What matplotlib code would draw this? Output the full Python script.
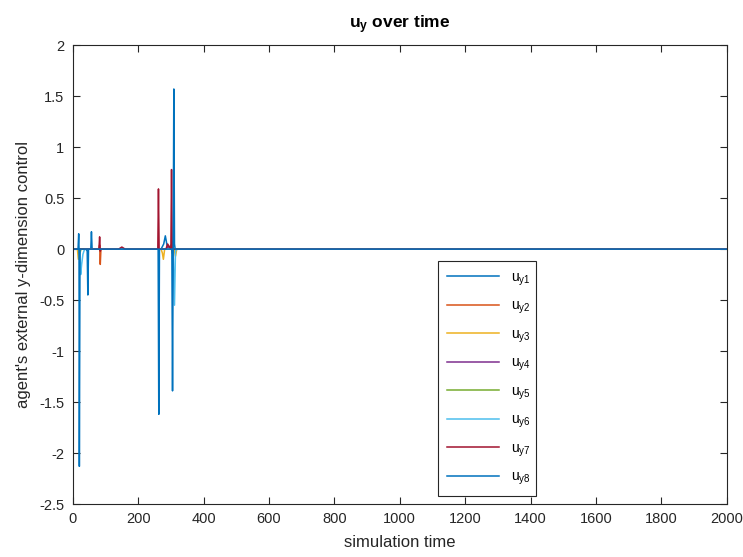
import matplotlib
matplotlib.use("Agg")
import matplotlib.pyplot as plt
import numpy as np

plt.rcParams['font.family'] = ['Liberation Sans', 'DejaVu Sans']
plt.rcParams['mathtext.fontset'] = 'custom'
plt.rcParams['mathtext.rm'] = 'Liberation Sans'
plt.rcParams['mathtext.it'] = 'Liberation Sans'
plt.rcParams['mathtext.bf'] = 'Liberation Sans:bold'

t1 = [0, 40, 44, 46, 48, 55, 57, 59, 61, 270, 278, 283, 288, 292, 2000]
u1 = [0, 0, -0.02, -0.45, 0.0, 0.0, 0.17, 0.0, 0.0, 0.0, 0.05, 0.13, 0.04, 0.0, 0]

t2 = [0, 80, 82, 84, 86, 290, 300, 304, 310, 2000]
u2 = [0, 0, 0.04, -0.15, 0.0, 0.0, 0.03, -0.04, 0.0, 0]

t3 = [0, 14, 17, 20, 24, 270, 274, 277, 281, 310, 314, 318, 2000]
u3 = [0, 0, -0.1, -0.03, 0.0, 0.0, -0.04, -0.1, 0.0, 0.0, -0.07, 0.0, 0]

t4 = [0, 285, 292, 298, 2000]
u4 = [0, 0, 0.03, 0.0, 0]

t5 = [0, 18, 21, 25, 296, 300, 306, 2000]
u5 = [0, 0, -0.05, 0.0, 0.0, 0.04, 0.0, 0]

t6 = [0, 20, 22, 24, 27, 31, 36, 300, 306, 311, 314, 318, 2000]
u6 = [0, 0, -0.05, -0.25, -0.15, -0.05, 0.0, 0.0, 0.08, -0.55, -0.02, 0.0, 0]

t7 = [0, 80, 82, 84, 86, 140, 150, 160, 260, 262, 264, 266, 285, 290, 300, 302, 304, 306, 2000]
u7 = [0, 0, 0.12, -0.02, 0.0, 0.0, 0.02, 0.0, 0.0, 0.59, 0.0, 0.0, 0.0, 0.05, 0.0, 0.78, 0.02, 0.0, 0]

t8 = [0, 16, 18, 19, 20, 22, 261, 263, 265, 303, 305, 307, 309, 311, 313, 2000]
u8 = [0, 0, 0.15, 0.0, -2.13, 0.0, 0.0, -1.62, 0.0, 0.0, -1.39, 0.0, 1.57, 0.05, 0.0, 0]

times = [t1, t2, t3, t4, t5, t6, t7, t8]
signals = [u1, u2, u3, u4, u5, u6, u7, u8]
labels = [r'$\mathrm{u_{y%d}}$' % (i + 1) for i in range(8)]
colors = ['#0072BD', '#D95319', '#EDB120', '#7E2F8E', '#77AC30', '#4DBEEE', '#A2142F', '#0072BD']

xticks = np.arange(0, 2001, 200)
yticks = np.arange(-2.5, 2.01, 0.5)
ytick_labels = ['-2.5', '-2', '-1.5', '-1', '-0.5', '0', '0.5', '1', '1.5', '2']

fig = plt.figure(figsize=(7.43, 5.57), dpi=100)
ax = fig.add_axes([0.098, 0.095, 0.880, 0.824])

for t, u, c, lab in zip(times, signals, colors, labels):
    ax.plot(t, u, color=c, lw=1.1, label=lab)

ax.set_xlim(0, 2000)
ax.set_ylim(-2.5, 2)
ax.set_xticks(xticks)
ax.set_yticks(yticks, labels=ytick_labels)
ax.tick_params(direction='in', top=True, right=True, labelsize=10.5, length=5, width=0.8,
               colors='#262626', pad=6)
for s in ax.spines.values():
    s.set_color('#262626')
    s.set_linewidth(0.8)

ax.set_xlabel('simulation time', fontsize=12, color='#262626', labelpad=6)
ax.set_ylabel("agent's external y-dimension control", fontsize=12, color='#262626', labelpad=6)
ax.set_title(r'$\mathbf{u_y}$ over time', fontsize=12.5, fontweight='bold', pad=12)

leg = ax.legend(loc='lower left', bbox_to_anchor=(0.558, 0.017, 0.151, 0.51), mode='expand',
                fontsize=10, handlelength=3.8, labelspacing=0.8, borderpad=0.65, borderaxespad=0,
                fancybox=False, edgecolor='#262626', framealpha=1)
leg.get_frame().set_linewidth(0.8)

fig.savefig('out.png', dpi=100)
